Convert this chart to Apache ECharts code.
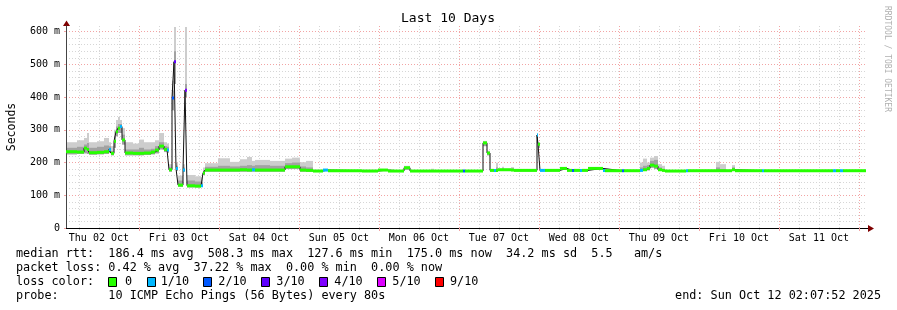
<!DOCTYPE html>
<html><head><meta charset="utf-8">
<script src="https://cdn.jsdelivr.net/npm/echarts@6/dist/echarts.min.js"></script>
<style>html,body{margin:0;padding:0;background:#fff}#c{width:897px;height:310px}</style>
</head><body><div id="c"></div>
<script>
// x values are hours since Thu 02 Oct 2025 00:00
const START = 2.13, END = 242.13;
const dayLabels = ["Thu 02 Oct","Fri 03 Oct","Sat 04 Oct","Sun 05 Oct","Mon 06 Oct","Tue 07 Oct","Wed 08 Oct","Thu 09 Oct","Fri 10 Oct","Sat 11 Oct"];
const dayLabelPos = [12,36,60,84,108,132,156,180,204,228];
const dayLines = [24,48,72,96,120,144,168,192,216,240];
const hourLines = [6,12,18,30,36,42,54,60,66,78,84,90,102,108,114,126,132,138,150,156,162,174,180,186,198,204,210,222,228,234];
const yTicks = [0,100,200,300,400,500,600];
const yMinorTicks = [20,40,60,80,120,140,160,180,220,240,260,280,320,340,360,380,420,440,460,480,520,540,560,580];

const times = [2.13,5.43,7.53,8.43,9.03,11.43,13.53,15.03,15.63,16.53,17.13,17.73,18.33,18.93,19.83,22.23,24.03,25.53,27.63,28.83,30.03,31.53,32.43,33.03,33.93,34.53,35.13,35.73,37.23,37.83,38.43,40.83,42.63,43.23,43.83,47.73,51.33,54.33,56.43,57.93,58.83,63.33,67.83,69.93,72.33,74.13,76.23,79.23,80.73,90.93,95.73,98.73,103.53,105.33,111.63,112.53,121.23,121.83,127.23,128.43,129.33,130.53,131.13,131.73,132.93,133.53,135.63,136.53,143.43,143.73,144.33,145.83,150.33,152.43,153.93,154.53,156.33,156.93,158.73,163.23,163.83,168.93,169.53,174.33,175.23,176.43,177.33,178.53,179.73,180.93,181.83,188.13,188.73,197.13,198.33,200.13,201.93,202.83,210.93,211.53,232.23,233.13,234.33,235.23];
const median = [233,232,244,240,230,231,233,240,228,265,294,305,310,269,229,228,228,229,232,238,250,240,238,178,397,508,182,131,177,421,129,128,129,168,177,177,177,178,177,178,177,177,187,187,177,176,174,177,175,174,177,174,184,174,174,174,174,174,260,229,176,176,176,178,178,178,177,176,284,256,176,176,182,176,176,176,176,176,182,176,175,175,175,176,178,182,192,189,178,176,174,175,175,175,175,175,178,175,175,175,175,175,175,175];
const smokeLo = [225,226,228,226,224,225,226,230,222,245,280,290,290,255,222,222,222,223,225,228,240,232,230,172,360,440,175,126,172,400,124,124,125,162,172,172,172,172,172,172,172,172,180,180,172,172,172,174,173,172,174,172,178,172,172,172,172,172,250,222,173,173,173,174,174,174,174,173,260,245,173,173,179,173,173,173,173,173,179,173,173,173,173,173,174,176,184,180,174,173,172,173,173,173,173,173,174,173,173,173,173,173,173,173];
const smokeMid = [245,248,255,260,245,248,252,250,235,280,310,318,318,285,240,240,245,240,242,250,262,250,248,185,420,540,190,145,185,440,145,142,140,175,187,190,188,190,192,190,192,190,198,200,188,185,176,178,176,175,178,175,187,175,176,175,175,175,263,232,177,177,185,179,182,179,182,177,286,258,177,177,183,177,177,177,177,177,183,177,176,176,176,185,190,192,205,208,185,180,175,176,176,185,180,176,185,176,176,176,176,176,176,176];
const smokeHi = [262,268,275,290,262,265,275,262,250,300,330,339,330,305,262,258,270,262,262,268,290,262,258,195,450,614,200,160,195,614,162,158,155,185,198,213,202,210,217,205,208,205,212,215,201,205,178,180,177,178,180,177,190,177,181,177,177,177,266,236,179,179,199,181,187,181,186,178,290,262,178,178,184,178,178,178,178,178,184,178,177,177,177,200,212,200,215,220,195,190,177,177,177,202,195,178,192,177,177,177,177,177,177,177];
const lossIdx = [0,0,0,0,0,0,0,1,0,0,0,0,1,0,0,0,0,0,0,0,0,0,1,0,2,3,1,0,1,4,0,0,1,0,0,0,0,0,0,1,0,0,0,0,0,0,0,1,0,0,0,0,0,0,0,0,2,0,0,0,0,1,0,0,0,0,0,0,1,0,1,0,0,0,2,0,1,0,0,1,0,2,0,1,0,0,0,0,0,0,0,1,0,0,0,0,0,0,1,0,1,0,1,0];
const lossColors = ['#26ff00','#00b8ff','#0059ff','#5e00ff','#7e00ff','#dd00ff','#ff0000'];
const lossLabels = ['0','1/10','2/10','3/10','4/10','5/10','9/10'];

const n = times.length;
const segs = times.map((t,i)=>[t, i+1<n?times[i+1]:END, smokeLo[i], smokeMid[i], smokeHi[i], median[i], lossIdx[i]]);
const medLine = times.map((t,i)=>[t, median[i]]).concat([[END, median[n-1]]]);

const FONT = '"DejaVu Sans Mono", monospace';
const chart = echarts.init(document.getElementById('c'), null, {renderer:'canvas'});

const graphic = [
  {type:'text', x:448, y:19, style:{text:'Last 10 Days', font:'13px '+FONT, fill:'#000', align:'center', verticalAlign:'middle'}},
  {type:'text', x:12, y:127, rotation:Math.PI/2, style:{text:'Seconds', font:'11.5px '+FONT, fill:'#000', align:'center', verticalAlign:'middle'}},
  {type:'text', x:887, y:59, rotation:-Math.PI/2, style:{text:'RRDTOOL / TOBI OETIKER', font:'8px '+FONT, fill:'#b0b0b0', align:'center', verticalAlign:'middle'}},
  {type:'polygon', shape:{points:[[63,26],[66.5,20.5],[70,26]]}, style:{fill:'#7f0000'}},
  {type:'line', shape:{x1:866, y1:228.5, x2:869, y2:228.5}, style:{stroke:'#000', lineWidth:1}},
  {type:'polygon', shape:{points:[[868,225],[874,228.5],[868,232]]}, style:{fill:'#7f0000'}},
  {type:'text', x:16, y:254, style:{text:'median rtt:  186.4 ms avg  508.3 ms max  127.6 ms min  175.0 ms now  34.2 ms sd  5.5   am/s', font:'11.8px '+FONT, fill:'#000', verticalAlign:'middle'}},
  {type:'text', x:16, y:268, style:{text:'packet loss: 0.42 % avg  37.22 % max  0.00 % min  0.00 % now', font:'11.8px '+FONT, fill:'#000', verticalAlign:'middle'}},
  {type:'text', x:16, y:282, style:{text:'loss color:', font:'11.8px '+FONT, fill:'#000', verticalAlign:'middle'}},
  {type:'text', x:16, y:296, style:{text:'probe:       10 ICMP Echo Pings (56 Bytes) every 80s', font:'11.8px '+FONT, fill:'#000', verticalAlign:'middle'}},
  {type:'text', x:881, y:296, style:{text:'end: Sun Oct 12 02:07:52 2025', font:'11.8px '+FONT, fill:'#000', align:'right', verticalAlign:'middle'}}
];
const boxX = [108,147,203,261,319,377,435];
const labX = [125,160.7,218.3,276.3,334.3,392.3,450];
lossLabels.forEach((l,i)=>{
  graphic.push({type:'rect', shape:{x:boxX[i]+0.5, y:277.5, width:8, height:9}, style:{fill:lossColors[i], stroke:'#000', lineWidth:1}});
  graphic.push({type:'text', x:labX[i], y:282, style:{text:l, font:'11.8px '+FONT, fill:'#000', verticalAlign:'middle'}});
});

const minorLine = {show:true, lineStyle:{color:'#d6d6d6', type:[1,2], width:1}};
const majorLine = {show:true, lineStyle:{color:'#f2a4a4', type:[1,2], width:1}};

chart.setOption({
  animation:false,
  backgroundColor:'#fff',
  grid:{left:66, top:26, width:800, height:202, show:false},
  graphic: graphic,
  xAxis:[
    {type:'value', min:START, max:END, position:'bottom',
     axisLine:{show:true, onZero:false, lineStyle:{color:'#000', width:1}},
     axisTick:{show:true, length:3, customValues:dayLines, lineStyle:{color:'#f2a4a4'}},
     axisLabel:{show:true, customValues:dayLabelPos, margin:5, color:'#000', fontSize:10, fontFamily:FONT,
       formatter:(v)=>{const k=dayLabelPos.indexOf(Math.round(v)); return k>=0?dayLabels[k]:'';}},
     splitLine:majorLine, z:3},
    {type:'value', min:START, max:END, position:'bottom',
     axisLine:{show:false}, axisLabel:{show:false},
     axisTick:{show:true, length:2, customValues:hourLines, lineStyle:{color:'#d6d6d6'}},
     splitLine:minorLine, z:2}
  ],
  yAxis:[
    {type:'value', min:0, max:617, position:'left',
     axisLine:{show:true, onZero:false, lineStyle:{color:'#444', width:1}},
     axisTick:{show:true, length:2, customValues:yTicks, lineStyle:{color:'#f2a4a4'}},
     axisLabel:{show:true, customValues:yTicks, margin:6, color:'#000', fontSize:10, fontFamily:FONT,
       formatter:(v)=> v===0?'0':(v+' m')},
     splitLine:majorLine, z:3},
    {type:'value', min:0, max:617, position:'left',
     axisLine:{show:false}, axisLabel:{show:false},
     axisTick:{show:false, customValues:yMinorTicks},
     splitLine:minorLine, z:2}
  ],
  series:[
    {type:'custom', name:'smoke', xAxisIndex:0, yAxisIndex:0, data:segs, encode:{x:[0,1], y:[2,4]}, z:3,
     renderItem:(params, api)=>{
       const a = api.coord([api.value(0), api.value(4)]);
       const b = api.coord([api.value(1), api.value(2)]);
       const m = api.coord([api.value(0), api.value(3)]);
       const w = b[0]-a[0];
       return {type:'group', children:[
         {type:'rect', shape:{x:a[0], y:a[1], width:w, height:b[1]-a[1]}, style:{fill:'#cdcdcd'}},
         {type:'rect', shape:{x:a[0], y:m[1], width:w, height:b[1]-m[1]}, style:{fill:'#a2a2a2'}}
       ]};
     }},
    {type:'line', name:'median', xAxisIndex:0, yAxisIndex:0, data:medLine, step:'end', showSymbol:false, z:4,
     lineStyle:{color:'#111', width:1}},
    {type:'custom', name:'loss', xAxisIndex:0, yAxisIndex:0, data:segs, encode:{x:[0,1], y:5}, z:5,
     renderItem:(params, api)=>{
       const a = api.coord([api.value(0), api.value(5)]);
       const b = api.coord([api.value(1), api.value(5)]);
       return {type:'line', shape:{x1:a[0], y1:a[1], x2:b[0], y2:b[1]}, style:{stroke:lossColors[api.value(6)], lineWidth:3}};
     }}
  ]
});
</script></body></html>
